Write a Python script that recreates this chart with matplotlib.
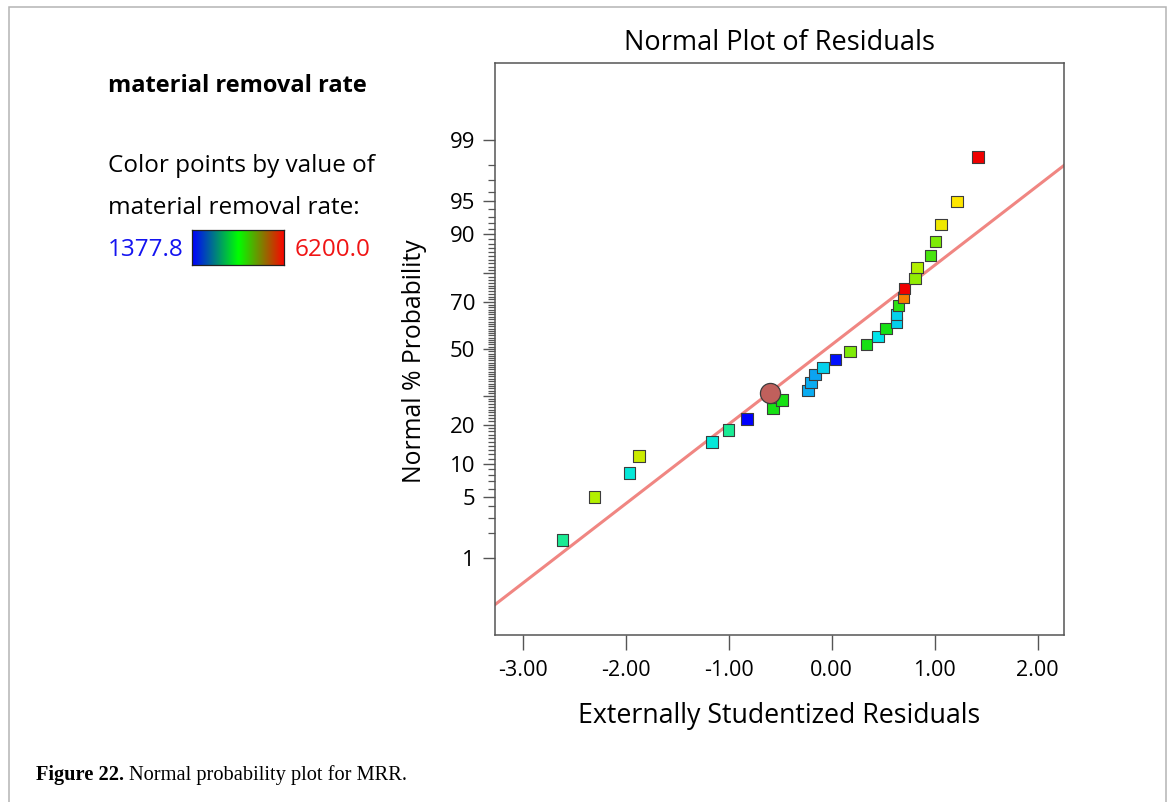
import math

import numpy as np
import matplotlib

matplotlib.use("Agg")
import matplotlib.pyplot as plt
from matplotlib.colors import LinearSegmentedColormap
from matplotlib.patches import Rectangle
from matplotlib.ticker import FixedLocator, FixedFormatter

plt.rcParams["font.family"] = ["Open Sans", "DejaVu Sans"]

# Data (30 runs, sorted by rank)
residuals = [-2.61, -2.30, -1.96, -1.87, -1.16, -1.00, -0.82, -0.57, -0.48,
             -0.23, -0.20, -0.16, -0.08, 0.04, 0.18, 0.34, 0.45, 0.53,
             0.63, 0.63, 0.65, 0.70, 0.71, 0.81, 0.83, 0.96, 1.01, 1.06,
             1.22, 1.42]
probability = [1.67, 4.98, 8.39, 11.70, 15.07, 18.41, 21.86, 25.30, 28.60,
               32.13, 35.38, 38.74, 41.77, 45.30, 48.84, 51.95, 55.49, 59.02,
               61.60, 64.95, 68.59, 71.70, 74.98, 78.40, 81.81, 85.13, 88.47,
               91.74, 95.00, 98.37]
mrr = [3306, 4512, 2930, 4657, 2930, 3306, 1378, 3789, 3789,
       2439, 2439, 2390, 2680, 1474, 4271, 3789, 2824, 3789,
       2680, 2680, 3885, 5573, 6200, 4367, 4512, 4030, 4271,
       4898, 4994, 6200]

# highlighted run (circle)
sel_residual = -0.60
sel_probability = 31.31

# fitted normal line (z = slope * residual + intercept)
line_slope = 0.886
line_intercept = 0.046

mrr_min, mrr_max = 1377.8, 6200.0

x_ticks = [-3.0, -2.0, -1.0, 0.0, 1.0, 2.0]
y_major = [1, 5, 10, 20, 30, 50, 70, 80, 90, 95, 99]
y_labels = ["1", "5", "10", "20", "", "50", "70", "", "90", "95", "99"]
y_minor = [p for p in range(1, 100) if p not in y_major]

_erf = np.vectorize(math.erf, otypes=[float])


def z_to_prob(z):
    z = np.asarray(z, dtype=float)
    return 50.0 * (1.0 + _erf(z / math.sqrt(2.0)))


def prob_to_z(p):
    p = np.clip(np.asarray(p, dtype=float), 1e-7, 100 - 1e-7)
    lo = np.full(p.shape, -9.0)
    hi = np.full(p.shape, 9.0)
    for _ in range(55):
        mid = (lo + hi) / 2
        below = z_to_prob(mid) < p
        lo = np.where(below, mid, lo)
        hi = np.where(below, hi, mid)
    return (lo + hi) / 2


W, H = 1171, 802


def fx(px):
    return px / W


def fy(py):
    return 1 - py / H


fig = plt.figure(figsize=(W / 100, H / 100), dpi=100)

# outer frame
fig.patches.append(Rectangle((fx(9), -0.05), fx(1165.5) - fx(9), fy(7) + 0.05,
                             transform=fig.transFigure, fill=False,
                             edgecolor="#b4b4b4", linewidth=1.1))

ax = fig.add_axes([fx(494.5), fy(635), fx(1064.3) - fx(494.5), fy(63) - fy(635)])
ax.set_yscale("function", functions=(prob_to_z, z_to_prob))

point_cmap = LinearSegmentedColormap.from_list("pts", [
    (0.00, (0.00, 0.00, 1.00)),
    (0.20, (0.05, 0.62, 0.95)),
    (0.30, (0.00, 0.90, 0.92)),
    (0.40, (0.10, 0.92, 0.58)),
    (0.50, (0.08, 0.88, 0.08)),
    (0.65, (0.70, 0.94, 0.00)),
    (0.75, (1.00, 0.90, 0.00)),
    (0.87, (0.96, 0.50, 0.00)),
    (1.00, (0.94, 0.00, 0.00)),
])

xlim = (-3.272, 2.26)
line_x = np.array(xlim)
ax.plot(line_x, z_to_prob(line_slope * line_x + line_intercept),
        color="#f08682", linewidth=2.2, zorder=2)

ax.scatter(residuals, probability, c=mrr, cmap=point_cmap, vmin=mrr_min,
           vmax=mrr_max, marker="s", s=70, edgecolors="#3c3c3c",
           linewidths=0.8, zorder=3)
ax.scatter([sel_residual], [sel_probability], marker="o", s=210,
           color="#c0605c", edgecolors="#3c3c3c", linewidths=0.9, zorder=4)

ax.set_xlim(*xlim)
ax.set_ylim(0.0718, 99.9282)

ax.set_xticks(x_ticks)
ax.set_xticklabels([f"{t:.2f}" for t in x_ticks])
ax.yaxis.set_major_locator(FixedLocator(y_major))
ax.yaxis.set_major_formatter(FixedFormatter(y_labels))
ax.yaxis.set_minor_locator(FixedLocator(y_minor))
ax.yaxis.set_minor_formatter(FixedFormatter([""] * len(y_minor)))

spine_col = "#555555"
for s in ax.spines.values():
    s.set_color(spine_col)
    s.set_linewidth(1.1)
ax.tick_params(axis="x", which="major", length=11, width=1.0, color=spine_col,
               pad=7, labelsize=15.5)
ax.tick_params(axis="y", which="major", length=9, width=1.0, color=spine_col,
               pad=5, labelsize=16)
ax.tick_params(axis="y", which="minor", length=5, width=0.9, color=spine_col)

ax.set_title("Normal Plot of Residuals", fontsize=19.5, pad=9)
ax.set_xlabel("Externally Studentized Residuals", fontsize=19.3)
ax.set_ylabel("Normal % Probability", fontsize=17.8)
ax.xaxis.set_label_coords(0.5, -0.117)
ax.yaxis.set_label_coords(-0.118, 0.478)

# left-hand legend block
fig.text(fx(108), fy(92), "material removal rate", fontsize=17,
         fontweight="bold", va="baseline")
fig.text(fx(108), fy(172), "Color points by value of", fontsize=17.5,
         va="baseline")
fig.text(fx(108), fy(214), "material removal rate:", fontsize=17.5,
         va="baseline")
fig.text(fx(108), fy(256), f"{mrr_min:.1f}", fontsize=17.5, color="#1414f0",
         va="baseline")
fig.text(fx(295), fy(256), f"{mrr_max:.1f}", fontsize=17.5, color="#f01414",
         va="baseline")

bar_cmap = LinearSegmentedColormap.from_list("bar", ["#0000ff", "#00ff00", "#ff0000"])
cax = fig.add_axes([fx(191.7), fy(265), fx(284.3) - fx(191.7), fy(229.5) - fy(265)])
cax.imshow(np.linspace(mrr_min, mrr_max, 256).reshape(1, -1), aspect="auto",
           cmap=bar_cmap, vmin=mrr_min, vmax=mrr_max)
cax.set_xticks([])
cax.set_yticks([])
for s in cax.spines.values():
    s.set_color("#222222")
    s.set_linewidth(0.9)

# caption
cap_font = ["Liberation Serif", "DejaVu Serif"]
t1 = fig.text(fx(36), fy(780), "Figure 22.", fontsize=14.7, fontweight="bold",
              family=cap_font, va="baseline")
fig.canvas.draw()
bb = t1.get_window_extent()
fig.text(bb.x1 / W + fx(5), fy(780), "Normal probability plot for MRR.",
         fontsize=14.7, family=cap_font, va="baseline")

fig.savefig("out.png", dpi=100)
